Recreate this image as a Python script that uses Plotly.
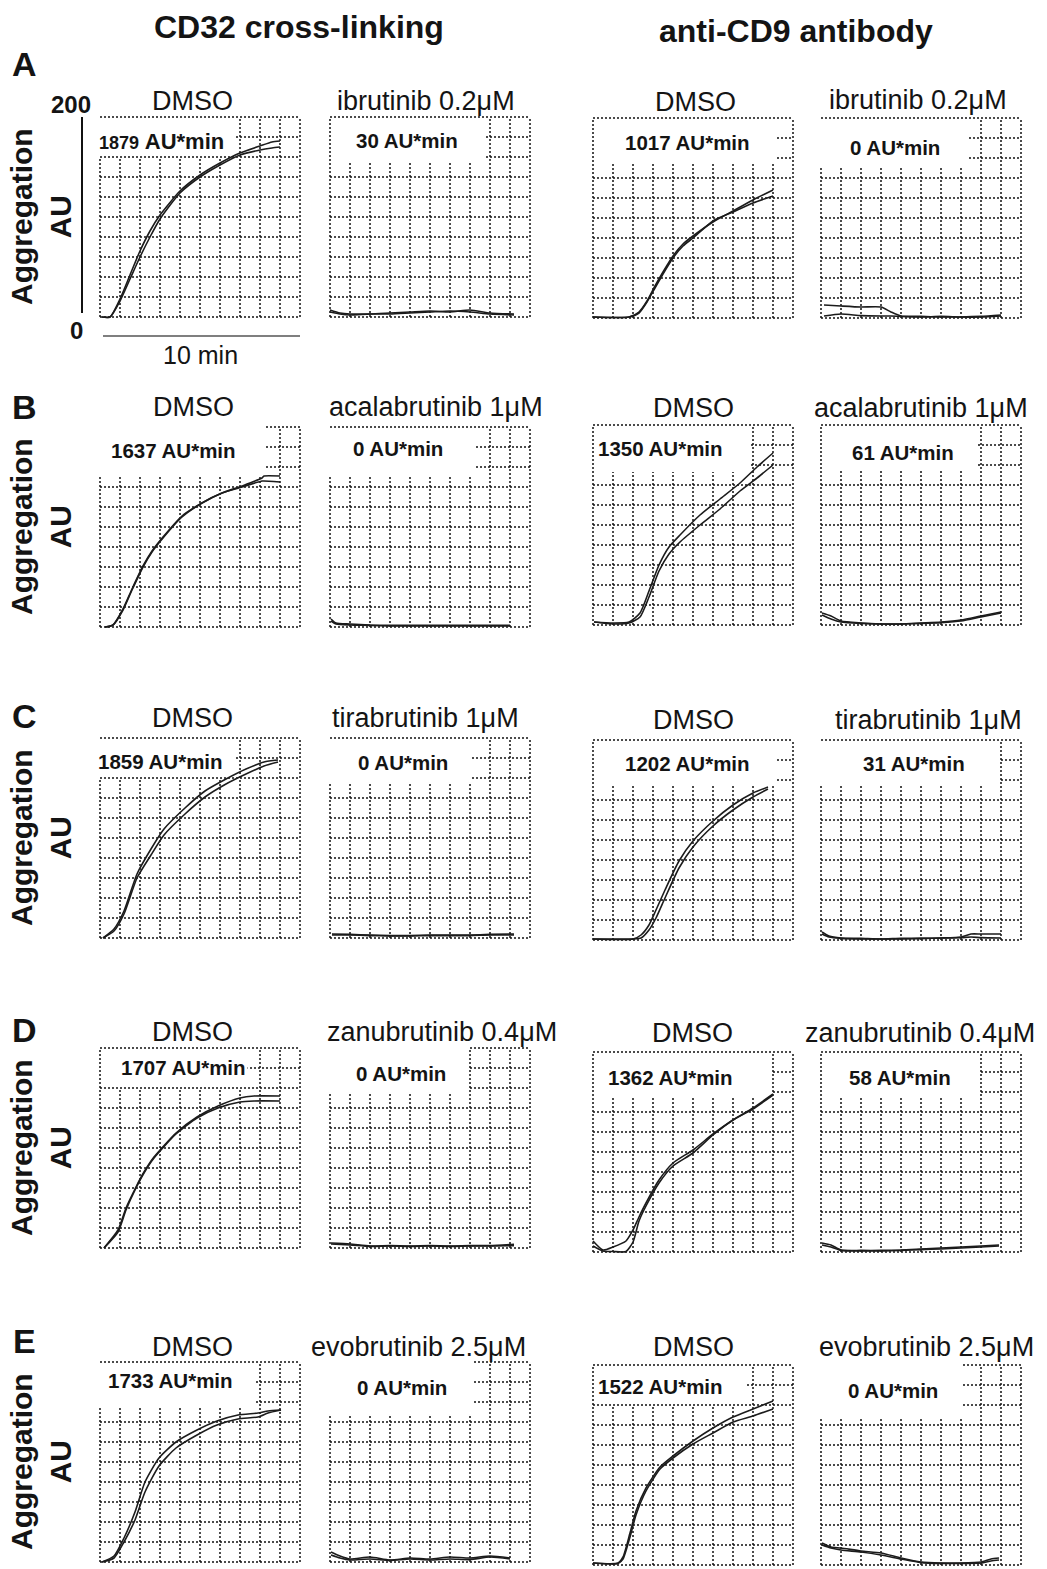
import plotly.graph_objects as go

# ---------------- data: time (min) and aggregation (AU), two runs per panel ----------------
A1_time = [0.1, 0.5, 1.0, 1.5, 2.0, 2.5, 3.0, 4.0, 5.0, 6.0, 7.0, 8.0, 8.6, 9.0]
A1_run1 = [0, 0, 18, 42, 66, 86, 102, 126, 142, 154, 164, 171, 175, 176]
A1_run2 = [0, 0, 16, 38, 60, 80, 98, 124, 140, 152, 162, 167, 169, 170]

A2_time = [0, 0.5, 1, 2, 3, 4, 5, 6, 7, 8, 9.2]
A2_run1 = [7, 4, 3, 3, 4, 5, 6, 5, 7, 4, 3]
A2_run2 = [5, 3, 2, 3, 3, 4, 5, 6, 5, 3, 2]

A3_time = [0, 1.8, 2.3, 2.7, 3.1, 3.5, 4.0, 4.5, 5.0, 6.0, 7.0, 8.0, 9.0]
A3_run1 = [1, 1, 6, 17, 32, 46, 62, 74, 82, 96, 107, 118, 128]
A3_run2 = [1, 1, 5, 16, 30, 44, 60, 72, 80, 97, 106, 115, 122]

A4_time = [0.15, 1, 2, 3, 3.5, 4.0, 5, 6, 7, 8, 9.0]
A4_run1 = [13, 12, 11, 11, 6, 2, 1.6, 1, 1, 1.6, 3]
A4_run2 = [2, 4, 2.4, 2, 2, 1.6, 1, 1.6, 1, 1, 2]

B1_time = [0.25, 0.65, 1.15, 1.6, 2.15, 2.6, 3.15, 4.1, 5.1, 6.1, 7.1, 8.1, 8.2, 9.0]
B1_run1 = [0, 2, 18, 38, 61, 76, 90, 111, 124, 134, 141, 149, 151, 151]
B1_run2 = [0, 2, 17, 37, 60, 75, 89, 110, 124, 134, 140, 146, 146, 145]

B2_time = [0.05, 0.3, 1.0, 2, 3, 4, 5, 6, 7, 8, 9.0]
B2_run1 = [8, 4, 3, 2, 1.6, 1.6, 1.6, 1.6, 1.6, 1.6, 1.6]
B2_run2 = [6, 3, 2, 1.6, 1, 1, 1, 1, 1, 1, 1]

B3_time = [0.05, 1, 1.8, 2.35, 2.8, 3.3, 3.8, 4.35, 5.35, 6.35, 7.35, 8.2, 9.0]
B3_run1 = [3, 2, 3, 12, 34, 60, 78, 90, 110, 126, 142, 158, 172]
B3_run2 = [3, 1, 2, 8, 28, 54, 71, 83, 100, 116, 134, 147, 160]

B4_time = [0.05, 0.5, 1, 2, 3, 4, 5, 6, 7, 8, 9.0]
B4_run1 = [12, 9, 4, 2, 1, 1, 2, 3, 5, 9, 13]
B4_run2 = [10, 6, 3, 1.6, 1, 1, 1.6, 2.4, 4, 8, 12]

C1_time = [0.15, 0.7, 1.2, 1.85, 2.55, 3.2, 4.25, 5.25, 6.3, 7.3, 8.2, 8.9]
C1_run1 = [0, 9, 27, 64, 89, 109, 130, 147, 159, 169, 176, 178]
C1_run2 = [0, 7, 24, 60, 83, 103, 124, 141, 154, 164, 172, 176]

C2_time = [0.1, 1, 2, 3, 4, 5, 6, 7, 8, 9.2]
C2_run1 = [4, 3.6, 3, 2.4, 2.4, 3, 3, 3, 3.6, 4]
C2_run2 = [3, 3, 2.4, 2, 2, 2.4, 2.4, 2.4, 3, 3]

C3_time = [0, 2.0, 2.4, 2.8, 3.15, 3.6, 4.3, 5.0, 6.0, 7.0, 8.0, 8.75]
C3_run1 = [1, 1, 5, 15, 30, 50, 79, 99, 119, 135, 147, 153]
C3_run2 = [1, 1, 2, 10, 22, 42, 72, 93, 114, 130, 143, 151]

C4_time = [0.05, 0.4, 1, 2, 3, 4, 5, 6, 7, 7.5, 8, 9.0]
C4_run1 = [8, 4, 2, 1.6, 1, 1.6, 1.6, 2, 3, 6, 6, 6]
C4_run2 = [6, 3, 1.6, 1, 1, 1, 1.6, 2, 2.4, 3, 2.4, 2]

D1_time = [0.2, 0.9, 1.3, 1.8, 2.2, 2.7, 3.8, 4.85, 5.9, 7.0, 7.7, 9.0]
D1_run1 = [0, 18, 40, 61, 76, 91, 115, 131, 142, 150, 152, 152]
D1_run2 = [0, 16, 38, 60, 75, 90, 114, 130, 140, 146, 147, 147]

D2_time = [0.05, 1, 2, 3, 4, 5, 6, 7, 8, 9.2]
D2_run1 = [5, 4, 2, 2.4, 2, 2.4, 2, 2.4, 2.4, 3.6]
D2_run2 = [4, 3, 1.6, 2, 1.6, 2, 1.6, 2, 2, 2.4]

D3_time = [0.0, 0.5, 1.0, 1.65, 2.0, 2.3, 2.65, 3.3, 4.0, 5.0, 6.0, 7.0, 8.0, 9.0]
D3_run1 = [11, 2, 5, 11, 22, 35, 49, 72, 89, 102, 118, 132, 144, 158]
D3_run2 = [6, 1, 0.5, 0.5, 10, 31, 46, 69, 86, 99, 117, 132, 143, 157]

D4_time = [0.05, 0.5, 1, 2, 3, 4, 5, 6, 7, 8, 8.9]
D4_run1 = [9, 7, 2, 1.6, 1.6, 2, 3, 4, 5, 6, 7]
D4_run2 = [7, 5, 1.6, 1, 1, 1.6, 2.4, 3, 4, 5, 6]

E1_time = [0.1, 0.7, 1.2, 1.75, 2.25, 2.95, 3.8, 4.85, 5.85, 6.9, 7.9, 8.4, 9.05]
E1_run1 = [0, 6, 24, 50, 80, 104, 120, 132, 141, 147, 149, 151, 152]
E1_run2 = [0, 4, 20, 42, 70, 96, 114, 127, 137, 143, 145, 149, 152]

E2_time = [0.05, 0.5, 1, 2, 3, 4, 5, 6, 7, 8, 9]
E2_run1 = [10, 6, 3, 5, 2, 4, 3, 5, 4, 6, 4]
E2_run2 = [7, 4, 2, 3, 1.6, 3, 2, 3, 2.4, 5, 3]

E3_time = [0, 1.25, 1.5, 1.85, 2.15, 2.65, 3.35, 4.0, 5.0, 6.0, 7.0, 8.0, 9.0]
E3_run1 = [2, 2, 8, 32, 54, 77, 98, 109, 124, 137, 148, 156, 164]
E3_run2 = [2, 1.6, 6, 28, 50, 74, 96, 107, 121, 132, 143, 149, 156]

E4_time = [0.05, 0.5, 1, 2, 3, 4, 5, 6, 7, 8, 8.5, 8.9]
E4_run1 = [22, 18, 17, 14, 12, 7, 3, 2, 2, 3, 6, 7]
E4_run2 = [20, 17, 15, 13, 10, 6, 2.4, 1.6, 1.6, 2, 4, 5]

panel_titles = [
    "DMSO", "ibrutinib 0.2μM", "DMSO", "ibrutinib 0.2μM",
    "DMSO", "acalabrutinib 1μM", "DMSO", "acalabrutinib 1μM",
    "DMSO", "tirabrutinib 1μM", "DMSO", "tirabrutinib 1μM",
    "DMSO", "zanubrutinib 0.4μM", "DMSO", "zanubrutinib 0.4μM",
    "DMSO", "evobrutinib 2.5μM", "DMSO", "evobrutinib 2.5μM",
]
auc_values = [1879, 30, 1017, 0, 1637, 0, 1350, 61, 1859, 0, 1202, 31,
              1707, 0, 1362, 58, 1733, 0, 1522, 0]
row_letters = ["A", "B", "C", "D", "E"]
group_titles = ["CD32 cross-linking", "anti-CD9 antibody"]

panel_data = [
    (A1_time, A1_run1, A1_run2), (A2_time, A2_run1, A2_run2),
    (A3_time, A3_run1, A3_run2), (A4_time, A4_run1, A4_run2),
    (B1_time, B1_run1, B1_run2), (B2_time, B2_run1, B2_run2),
    (B3_time, B3_run1, B3_run2), (B4_time, B4_run1, B4_run2),
    (C1_time, C1_run1, C1_run2), (C2_time, C2_run1, C2_run2),
    (C3_time, C3_run1, C3_run2), (C4_time, C4_run1, C4_run2),
    (D1_time, D1_run1, D1_run2), (D2_time, D2_run1, D2_run2),
    (D3_time, D3_run1, D3_run2), (D4_time, D4_run1, D4_run2),
    (E1_time, E1_run1, E1_run2), (E2_time, E2_run1, E2_run2),
    (E3_time, E3_run1, E3_run2), (E4_time, E4_run1, E4_run2),
]

# ---------------- layout / style (pixels) ----------------
W, H = 1047, 1569
FONT = "Liberation Sans, Arial, Helvetica, sans-serif"
INK = "#141414"
COL_LEFT = [100, 330, 593, 821]
ROW_TOP = [[117, 118], [427, 425], [738, 740], [1048, 1052], [1362, 1365]]
PANEL = 200  # 10 x 10 cells of 20 px
# white label box: (width cells, height cells, hide top outline, hide left outline)
BOXES = [
    (6.8, 2.0, False, True), (7.8, 2.3, False, False), (9.2, 2.3, False, False), (7.4, 2.4, False, True),
    (8.3, 2.4, True, True), (7.3, 2.5, False, True), (7.9, 2.35, False, False), (7.85, 2.3, False, False),
    (6.8, 2.0, False, True), (7.1, 2.3, False, True), (9.2, 2.3, False, False), (9.0, 2.3, False, True),
    (7.3, 2.0, False, False), (7.0, 2.3, True, True), (9.0, 2.3, False, False), (8.0, 2.3, False, False),
    (7.8, 2.3, False, True), (7.2, 2.6, True, True), (7.7, 2.0, False, False), (7.1, 2.6, True, True),
]
TITLE_POS = [
    (192, 101), (426, 101), (695, 102), (918, 100),
    (193, 407), (436, 407), (693, 408), (921, 408),
    (192, 718), (425, 718), (693, 720), (928, 720),
    (192, 1032), (442, 1032), (692, 1033), (920, 1033),
    (192, 1347), (418, 1347), (693, 1347), (926, 1347),
]
AUC_POS = [
    (161, 142), (407, 141), (687, 143), (895, 147),
    (173, 450), (398, 448), (660, 448), (903, 452),
    (160, 761), (403, 762), (687, 763), (914, 763),
    (183, 1067), (401, 1073), (670, 1077), (900, 1077),
    (170, 1380), (402, 1387), (660, 1386), (893, 1390),
]


def px_x(p):
    return p / W


def px_y(p):
    return 1 - p / H


def grid_path(bw, bh, hide_top, hide_left):
    cut = 200 - bh * 20
    segs = []
    for i in range(1, 10):
        segs.append((i, 0, i, cut if i < bw else 200))
    for j in range(1, 10):
        yy = j * 20
        segs.append((bw if (10 - j) < bh else 0, yy, 10, yy))
    segs.append((0, 0, 10, 0))
    segs.append((10, 0, 10, 200))
    segs.append((bw if hide_top else 0, 200, 10, 200))
    segs.append((0, 0, 0, cut if hide_left else 200))
    return " ".join(f"M{a},{b} L{c},{d}" for a, b, c, d in segs)


fig = go.Figure()
layout = dict(
    width=W, height=H, margin=dict(l=0, r=0, t=0, b=0),
    paper_bgcolor="white", plot_bgcolor="rgba(0,0,0,0)",
    showlegend=False, font=dict(family=FONT, color=INK),
)
shapes, annotations = [], []

for k, (t, r1, r2) in enumerate(panel_data):
    row, col = divmod(k, 4)
    left = COL_LEFT[col]
    top = ROW_TOP[row][0 if col < 2 else 1]
    suffix = "" if k == 0 else str(k + 1)
    xa, ya = "x" + suffix, "y" + suffix
    layout["xaxis" + suffix] = dict(
        domain=[px_x(left - 2), px_x(left + PANEL + 2)], range=[-0.1, 10.1],
        anchor=ya, showgrid=False, zeroline=False, showticklabels=False,
        showline=False, ticks="", fixedrange=True)
    layout["yaxis" + suffix] = dict(
        domain=[px_y(top + PANEL + 2), px_y(top - 2)], range=[-2, 202],
        anchor=xa, showgrid=False, zeroline=False, showticklabels=False,
        showline=False, ticks="", fixedrange=True)
    bw, bh, ht, hl = BOXES[k]
    shapes.append(dict(type="path", path=grid_path(bw, bh, ht, hl), xref=xa, yref=ya,
                       layer="below", line=dict(color="#111111", width=1.5, dash="2px,2px")))
    for run in (r1, r2):
        fig.add_trace(go.Scatter(
            x=t, y=run, xaxis=xa, yaxis=ya, mode="lines", hoverinfo="skip",
            line=dict(color="#1c1c1c", width=1.6, shape="spline", smoothing=0.6)))
    tx, ty = TITLE_POS[k]
    annotations.append(dict(text=panel_titles[k], x=px_x(tx), y=px_y(ty), xref="paper", yref="paper",
                            showarrow=False, xanchor="center", yanchor="middle",
                            font=dict(size=27, color=INK, family=FONT)))
    ax_, ay_ = AUC_POS[k]
    if k == 0:
        label = f"<b><span style='font-size:18px'>{auc_values[k]}</span> <span style='font-size:22px'>AU*min</span></b>"
    else:
        label = f"<b>{auc_values[k]} AU*min</b>"
    annotations.append(dict(text=label, x=px_x(ax_), y=px_y(ay_), xref="paper", yref="paper",
                            showarrow=False, xanchor="center", yanchor="middle", bgcolor="white",
                            borderpad=1, font=dict(size=20.5, color=INK, family=FONT)))

# column headers
annotations.append(dict(text=f"<b>{group_titles[0]}</b>", x=px_x(299), y=px_y(27), xref="paper", yref="paper",
                        showarrow=False, xanchor="center", yanchor="middle", font=dict(size=32, family=FONT, color=INK)))
annotations.append(dict(text=f"<b>{group_titles[1]}</b>", x=px_x(796), y=px_y(31), xref="paper", yref="paper",
                        showarrow=False, xanchor="center", yanchor="middle", font=dict(size=32, family=FONT, color=INK)))

# row letters and y labels
LETTER_Y = [64, 407, 716, 1030, 1341]
for r in range(5):
    annotations.append(dict(text=f"<b>{row_letters[r]}</b>", x=px_x(24), y=px_y(LETTER_Y[r]), xref="paper",
                            yref="paper", showarrow=False, xanchor="center", yanchor="middle",
                            font=dict(size=34, family=FONT, color=INK)))
    mid = ROW_TOP[r][0] + PANEL / 2
    annotations.append(dict(text="<b>Aggregation<br>AU</b>", x=px_x(41), y=px_y(mid), xref="paper",
                            yref="paper", showarrow=False, xanchor="center", yanchor="middle", textangle=-90,
                            font=dict(size=30, family=FONT, color=INK)))

# scale annotations in panel A
annotations.append(dict(text="<b>200</b>", x=px_x(71), y=px_y(105), xref="paper", yref="paper", showarrow=False,
                        xanchor="center", yanchor="middle", font=dict(size=24, family=FONT, color=INK)))
annotations.append(dict(text="<b>0</b>", x=px_x(76), y=px_y(330), xref="paper", yref="paper", showarrow=False,
                        xanchor="center", yanchor="middle", font=dict(size=24, family=FONT, color=INK)))
annotations.append(dict(text="10 min", x=px_x(200), y=px_y(355), xref="paper", yref="paper", showarrow=False,
                        xanchor="center", yanchor="middle", font=dict(size=25, family=FONT, color=INK)))
shapes.append(dict(type="line", xref="paper", yref="paper", x0=px_x(82), x1=px_x(82), y0=px_y(117), y1=px_y(313),
                   line=dict(color="#111", width=2)))
shapes.append(dict(type="line", xref="paper", yref="paper", x0=px_x(103), x1=px_x(300), y0=px_y(336), y1=px_y(336),
                   line=dict(color="#555", width=1.5)))

layout["shapes"] = shapes
layout["annotations"] = annotations
fig.update_layout(**layout)
fig.write_html("out.html")
